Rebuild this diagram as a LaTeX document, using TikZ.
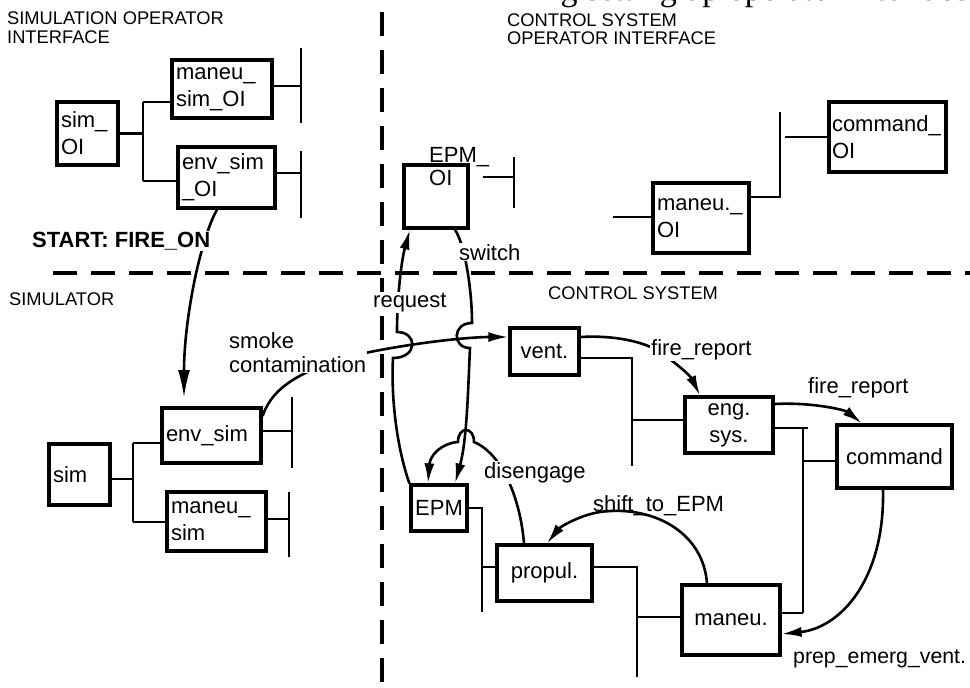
\documentclass[tikz,border=0pt]{standalone}
\usepackage{fontspec}
\setmainfont{Liberation Sans}
\newfontfamily\myserif{Liberation Serif}
\usetikzlibrary{arrows.meta,calc}
\newcommand\myboxfont{\fontsize{22}{27}\selectfont}
\newcommand\myheadfont{\fontsize{18.3}{19}\selectfont}
\newcommand\mylabfont{\fontsize{22}{24}\selectfont}
\begin{document}
\begin{tikzpicture}[x=1pt,y=-1pt,
  box/.style={draw, line width=3.2pt, rectangle, inner xsep=4pt, inner ysep=0pt, font=\myboxfont, align=center},
  lbox/.style={box, align=left},
  conn/.style={line width=2.8pt},
  flow/.style={line width=2.6pt, -{Latex[length=20pt,width=10pt]}},
  lab/.style={font=\mylabfont, inner sep=1pt, anchor=base west, align=left},
  wlab/.style={lab, fill=white},
  head/.style={font=\myheadfont, inner sep=0pt, anchor=base west, align=left},
  divider/.style={line width=3.5pt, dash pattern=on 24pt off 14pt}]
\fill[white] (0,0) rectangle (970,688);
\useasboundingbox (0,0) rectangle (970,688);

% cut-off line of body text at the top edge
\begin{scope}
\clip (520,0) rectangle (970,12);
\node[inner sep=0pt, anchor=base west, font=\myserif\fontsize{34}{36}\selectfont] (bodytext) at (534,1) {ing setting up operator interface};
\end{scope}

% dividers
\coordinate (dvT) at (382,12); \coordinate (dvB) at (382,688);
\coordinate (dhL) at (53,273); \coordinate (dhR) at (970,273);
\draw[divider] (dvT) -- (dvB);
\draw[divider] (dhL) -- (dhR);

% headings (base = last line)
\node[head] (hSOI) at (7,43) {SIMULATION OPERATOR\\INTERFACE};
\node[head, font=\fontsize{18.3}{18}\selectfont] (hCSOI) at (507,45) {CONTROL SYSTEM\\OPERATOR INTERFACE};
\node[head] (hSIM) at (9,305) {SIMULATOR};
\node[head] (hCS) at (548,299) {CONTROL SYSTEM};

% boxes
\node[lbox, text width=53pt, minimum height=63pt] (simOI) at (87.5,133.5) {sim\_\\OI};
\node[lbox, text width=92pt, minimum height=58pt] (maneuSimOI) at (222,89) {maneu\_\\sim\_OI};
\node[lbox, text width=89pt, minimum height=61pt] (envSimOI) at (226.5,177.5) {env\_sim\\\_OI};
\node[lbox, text width=53pt, minimum height=61pt] (sim) at (79.5,474.5) {sim};
\node[lbox, text width=91pt, minimum height=55pt] (envSim) at (211.5,435.5) {env\_sim};
\node[lbox, text width=91pt, minimum height=59pt] (maneuSim) at (216.5,521.5) {maneu\_\\sim};
\node[box, minimum width=64pt, minimum height=63pt] (EPMOI) at (436,196.5) {};
\node[lab, inner sep=0pt, font=\fontsize{22}{23}\selectfont] (EPMOItext) at (429,185) {EPM\_\\OI};
\node[lbox, text width=88pt, minimum height=70pt] (maneuOI) at (701,218) {maneu.\_\\OI};
\node[lbox, inner xsep=3pt, text width=111pt, minimum height=70pt] (commandOI) at (887.5,137) {command\_\\OI};
\node[box, minimum width=69pt, minimum height=47pt] (vent) at (544.5,351.5) {vent.};
\node[box, minimum width=88pt, minimum height=56pt] (engsys) at (729,425) {eng.\\sys.};
\node[box, minimum width=115pt, minimum height=63pt] (command) at (894.5,456.5) {command};
\node[box, inner xsep=2pt, minimum width=56pt, minimum height=46pt] (EPM) at (439,508) {EPM};
\node[box, minimum width=95pt, minimum height=56pt] (propul) at (544.5,573) {propul.};
\node[box, minimum width=98pt, minimum height=70pt] (maneu) at (731,620) {maneu.};

% structure coordinates
\coordinate (jA1) at (143,102); \coordinate (jA2) at (143,181);
\coordinate (bA1) at (301,48);  \coordinate (bA2) at (301,123);
\coordinate (bB1) at (301,151); \coordinate (bB2) at (301,218);
\coordinate (jC1) at (133,443); \coordinate (jC2) at (133,522);
\coordinate (bD1) at (292,397); \coordinate (bD2) at (292,468);
\coordinate (bE1) at (289,492); \coordinate (bE2) at (289,557);
\coordinate (sF) at (483,177); \coordinate (bF1) at (514,157); \coordinate (bF2) at (514,208);
\coordinate (sG) at (613,217);
\coordinate (bH1) at (780,112); \coordinate (bH2) at (780,197); \coordinate (sH) at (785,137);
\coordinate (bI1) at (632,358); \coordinate (bI2) at (632,466); \coordinate (jI) at (632,420);
\coordinate (bJ1) at (803,428); \coordinate (bJ2) at (803,613); \coordinate (jJ) at (803,461); \coordinate (eJ) at (808,428);
\coordinate (bK1) at (482,508); \coordinate (bK2) at (482,612); \coordinate (jK) at (482,567);
\coordinate (bL1) at (637,567); \coordinate (bL2) at (637,677); \coordinate (jL) at (637,617);

% structure connectors
\draw[conn] (simOI.east) -- (simOI.east -| jA1);
\draw[conn] (jA1) -- (jA2);
\draw[conn] (jA1) -- (jA1 -| maneuSimOI.west);
\draw[conn] (jA2) -- (jA2 -| envSimOI.west);
\draw[conn] (maneuSimOI.east |- 0,86) -- (bA1 |- 0,86);
\draw[conn] (bA1) -- (bA2);
\draw[conn] (envSimOI.east |- 0,173) -- (bB1 |- 0,173);
\draw[conn] (bB1) -- (bB2);
\draw[conn] (sim.east |- 0,479) -- (jC1 |- 0,479);
\draw[conn] (jC1) -- (jC2);
\draw[conn] (jC1) -- (jC1 -| envSim.west);
\draw[conn] (jC2) -- (jC2 -| maneuSim.west);
\draw[conn] (envSim.east |- 0,431) -- (bD1 |- 0,431);
\draw[conn] (bD1) -- (bD2);
\draw[conn] (maneuSim.east |- 0,519) -- (bE1 |- 0,519);
\draw[conn] (bE1) -- (bE2);
\draw[conn] (sF) -- (sF -| bF1);
\draw[conn] (bF1) -- (bF2);
\draw[conn] (sG) -- (sG -| maneuOI.west);
\draw[conn] (maneuOI.east |- bH2) -- (bH2) -- (bH1);
\draw[conn] (sH) -- (sH -| commandOI.west);
\draw[conn] (vent.east |- bI1) -- (bI1) -- (bI2);
\draw[conn] (jI) -- (jI -| engsys.west);
\draw[conn] (engsys.east |- eJ) -- (eJ);
\draw[conn] (bJ1) -- (bJ2);
\draw[conn] (jJ) -- (jJ -| command.west);
\draw[conn] (maneu.east |- bJ2) -- (bJ2);
\draw[conn] (EPM.east |- bK1) -- (bK1) -- (bK2);
\draw[conn] (jK) -- (jK -| propul.west);
\draw[conn] (propul.east |- bL1) -- (bL1) -- (bL2);
\draw[conn] (jL) -- (jL -| maneu.west);

% flows
\coordinate (startTip) at (184,398);
\draw[flow, -{Latex[length=28pt,width=12pt]}] (envSimOI.south -| 217,0) .. controls (200,240) and (184,320) .. (startTip);
\draw[flow] (envSim.east |- 0,416) .. controls (272,388) and (300,368) .. (370,352)
   .. controls (420,342) and (470,337) .. (vent.west |- 0,337);
\draw[flow] (EPM.north west) .. controls (396,445) and (391,395) .. (393,358)
   .. controls (418,358) and (418,332) .. (397,332)
   .. controls (397,300) and (401,262) .. (EPMOI.south -| 410,0);
\draw[flow] (EPMOI.south -| 455,0) .. controls (465,245) and (472,290) .. (472,323)
   .. controls (452,323) and (452,348) .. (470,348)
   .. controls (468,390) and (467,440) .. (EPM.north -| 455,0);
\draw[flow] (propul.north -| 524,0) .. controls (521,505) and (505,455) .. (474,442)
   .. controls (474,426) and (458,426) .. (458,442)
   .. controls (442,443) and (430,455) .. (EPM.north -| 428,0);
\draw[flow] (vent.east |- 0,337) .. controls (615,335) and (645,342) .. (660,352)
   .. controls (672,360) and (690,375) .. (engsys.north -| 700,0);
\draw[flow] (engsys.east |- 0,404) .. controls (812,402) and (845,410) .. (command.north -| 862,0);
\draw[flow] (command.south -| 883,0) .. controls (885,580) and (840,628) .. (maneu.east |- 0,634);
\draw[flow] (maneu.north -| 707,0) .. controls (703,530) and (650,505) .. (600,512)
   .. controls (580,515) and (560,527) .. (propul.north -| 547,0);

% labels
\node[wlab, font=\fontsize{22}{24}\selectfont\bfseries] (start) at (31,247) {START: FIRE\_ON};
\node[wlab] (smoke) at (228,372) {smoke\\contamination};
\node[wlab] (request) at (372,307) {request};
\node[wlab] (switch) at (458,260) {switch};
\node[wlab] (diseng) at (483,478) {disengage};
\node[wlab] (fr1) at (650,355) {fire\_report};
\node[lab] (fr2) at (807,393) {fire\_report};
\node[lab] (shift) at (592,511) {shift\_to\_EPM};
\node[lab, font=\fontsize{21.3}{24}\selectfont] (prep) at (792,663) {prep\_emerg\_vent.};
\end{tikzpicture}
\end{document}
